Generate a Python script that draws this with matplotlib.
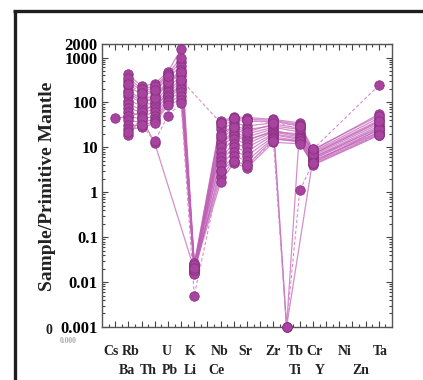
import numpy as np
import matplotlib
matplotlib.use("Agg")
import matplotlib.pyplot as plt
from matplotlib.lines import Line2D
from matplotlib.ticker import FixedLocator, LogLocator, NullFormatter

nan = np.nan

# Element order along the x axis (two blank slots carry no data)
elements = ['Cs', 'Ba', 'Rb', 'Th', 'U', 'Pb', 'K', 'Li', 'Nb', 'Ce', 'Sr', '',
            'Zr', 'Ti', 'Tb', 'Y', 'Cr', '', 'Ni', 'Zn', 'Ta']

# Primitive-mantle normalised values, one entry per sample
# (samples 0-16 solid, 17-18 dashed)
cs = [45, nan, nan, nan, nan, nan, nan, nan, nan, nan, nan, nan, nan, nan, nan, nan, nan, nan, nan]
ba = [48, 420, 300, 230, 180, 140, 110, 90, 75, 62, 50, 40, 32, 25, 19, 350, 160, 22, 260]
rb = [60, 230, 180, 150, 120, 100, 85, 70, 60, 50, 42, 36, 30, 28, 45, 200, 110, 32, 160]
th = [90, 260, 210, 170, 140, 120, 100, 85, 70, 60, 50, 42, 38, 34, 12.5, 230, 125, 13.5, 190]
u = [150, 480, 400, 350, 300, 260, 220, 190, 170, 150, 130, 115, 100, 88, nan, 430, 280, 51, 380]
pb = [210, 1550, 800, 650, 520, 450, 380, 320, 280, 240, 200, 170, 140, 115, nan, 1000, 480, 95, 320]
k = [0.020, 0.025, 0.022, 0.018, 0.024, 0.016, 0.021, 0.019, 0.023, 0.017, 0.026, 0.015,
     0.020, 0.022, 0.019, 0.024, 0.021, 0.005, nan]
nb = [12, 38, 30, 25, 20, 16, 13, 10, 8, 6, 5, 4, 3, 2.2, 1.7, 35, 18, 3, 35]
ce = [20, 48, 40, 35, 30, 25, 22, 18, 15, 12, 10, 8, 6.5, 5, 4.5, 45, 28, 5, 45]
sr = [15, 46, 38, 30, 25, 20, 17, 14, 12, 10, 8, 6.5, 5, 4, 3.5, 42, 22, 4, 40]
zr = [22, 42, 38, 35, 30, 28, 26, 24, 22, 20, 19, 17, 16, 15, 13, 40, 33, 14, 35]
ti = [nan, nan, nan, 0.001, nan, nan, 0.001, nan, nan, nan, nan, nan, nan, nan, nan, nan, nan, 0.001, nan]
tb = [20, 35, 30, 28, 25, 22, nan, 18, 17, 16, 15, 14, 13, 14, 12, 32, 27, 1.1, 30]
y = [6, 8.5, 8, 7.5, 7, 6.5, 5.5, 6, 5.5, 5, 5, 4.5, 4.2, 4, 4.5, 9, 7, 4.5, 9]
ta = [30, 55, 45, 40, 36, 33, 28, 26, 24, 22, 21, 20, 19, 18.5, 25, 50, 38, 19, 240]
dashed_samples = [17, 18]

# Label rows under the axis (x in element units)
top_labels = ['Cs', 'Rb', 'U', 'K', 'Nb', 'Sr', 'Zr', 'Tb', 'Cr', 'Ni', 'Ta']
top_label_x = [-0.3, 1.15, 3.88, 5.70, 7.91, 9.89, 11.94, 13.69, 15.13, 17.41, 20.15]
bottom_labels = ['Ba', 'Th', 'Pb', 'Li', 'Ce', 'Ti', 'Y', 'Zn']
bottom_label_x = [0.91, 2.51, 4.18, 5.70, 7.68, 13.69, 15.51, 18.63]

y_ticks = [0.001, 0.01, 0.1, 1, 10, 100, 1000, 2000]
y_tick_labels = ['0.001', '0.01', '0.1', '1', '10', '100', '1000', '2000']

columns = {'Cs': cs, 'Ba': ba, 'Rb': rb, 'Th': th, 'U': u, 'Pb': pb, 'K': k, 'Nb': nb,
           'Ce': ce, 'Sr': sr, 'Zr': zr, 'Ti': ti, 'Tb': tb, 'Y': y, 'Ta': ta}
n_samples = len(ba)
table = np.full((n_samples, len(elements)), nan)
for j, el in enumerate(elements):
    if el in columns:
        table[:, j] = columns[el]
xpos = np.arange(len(elements))

serif = ['Liberation Serif', 'DejaVu Serif']
plt.rcParams['font.family'] = serif
plt.rcParams['font.weight'] = 'bold'

fig = plt.figure(figsize=(4.23, 3.80), dpi=100)
ax = fig.add_axes([102 / 423, 1 - 327 / 380, 290 / 423, 283 / 380])

line_col = '#c061b6'
dash_col = '#d98ccf'
face_col = '#a8449f'
edge_col = '#8a3282'

for i in range(n_samples):
    row = table[i]
    m = ~np.isnan(row)
    if i in dashed_samples:
        ax.plot(xpos[m], row[m], color=dash_col, lw=0.8, ls=(0, (3, 2)), zorder=2)
    else:
        ax.plot(xpos[m], row[m], color=line_col, lw=0.9, alpha=0.7, zorder=2)

for i in range(n_samples):
    row = table[i]
    m = ~np.isnan(row)
    ax.plot(xpos[m], row[m], ls='none', marker='o', ms=6.8, mfc=face_col,
            mec=edge_col, mew=0.6, zorder=3, clip_on=False)

ax.set_yscale('log')
ax.set_ylim(0.001, 2000)
ax.set_xlim(-1, 21)

ax.yaxis.set_major_locator(FixedLocator(y_ticks))
ax.set_yticklabels(y_tick_labels)
ax.yaxis.set_minor_locator(LogLocator(base=10, subs=np.arange(2, 10), numticks=20))
ax.yaxis.set_minor_formatter(NullFormatter())

ax.xaxis.set_major_locator(FixedLocator(xpos))
ax.xaxis.set_minor_locator(FixedLocator(np.arange(-0.5, 21, 1.0)))
ax.set_xticklabels([])

ax.tick_params(which='both', direction='in', top=True, right=True, color='#444444', width=0.8)
ax.tick_params(which='major', length=4)
ax.tick_params(which='minor', length=2)
ax.tick_params(axis='y', labelsize=12, pad=3)
for lbl in ax.get_yticklabels():
    lbl.set_fontweight('bold')
for sp in ax.spines.values():
    sp.set_color('#555555')
    sp.set_linewidth(1.0)

xt = ax.get_xaxis_transform()
for lbl, xv in zip(top_labels, top_label_x):
    ax.text(xv, -0.085, lbl, transform=xt, ha='center', va='center',
            fontsize=10, fontweight='bold', color='#222222')
for lbl, xv in zip(bottom_labels, bottom_label_x):
    ax.text(xv, -0.155, lbl, transform=xt, ha='center', va='center',
            fontsize=10, fontweight='bold', color='#222222')

# zero marks at the foot of the y axis
fig.text(49 / 423, 1 - 330 / 380, '0', ha='center', va='center', fontsize=10,
         fontweight='bold', color='#222222')
fig.text(68 / 423, 1 - 341 / 380, '0.000', ha='center', va='center', fontsize=5.5,
         color='#aaaaaa')

fig.text(48 / 423, 1 - 186 / 380, 'Sample/Primitive Mantle', rotation=90,
         ha='center', va='center', fontsize=14, fontweight='bold', color='#222222')

# heavy outer frame
fig.add_artist(Line2D([14.5 / 423, 14.5 / 423], [0, 1 - 11 / 380], transform=fig.transFigure,
                      color='#1e1e1e', lw=2.4, solid_capstyle='butt'))
fig.add_artist(Line2D([13.3 / 423, 1], [1 - 11 / 380, 1 - 11 / 380], transform=fig.transFigure,
                      color='#1e1e1e', lw=2.4, solid_capstyle='butt'))

fig.savefig('out.png', dpi=100)
